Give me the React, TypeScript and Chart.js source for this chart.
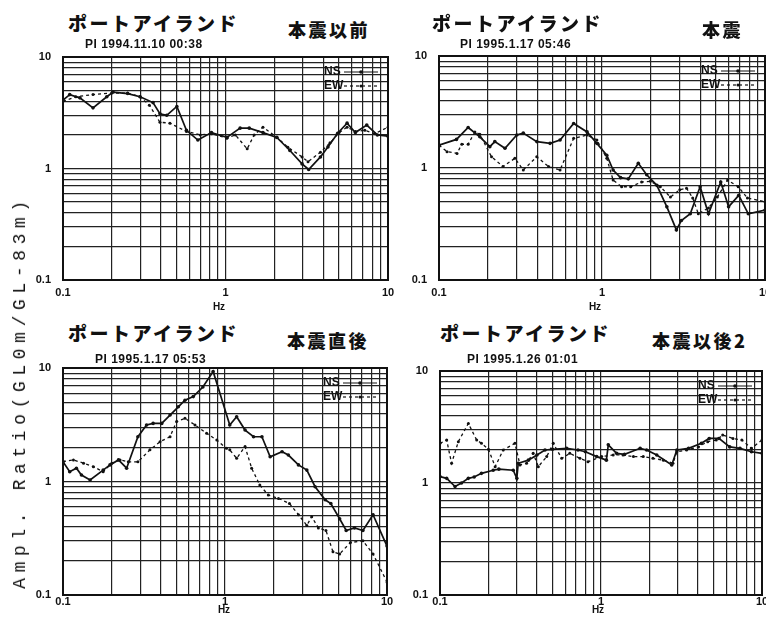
import React, { useEffect, useRef } from 'react';
import { Chart, registerables } from 'chart.js';

Chart.register(...registerables);

// ---- axis grid / tick labels ----
const GRID_VALUES = [0.1, 0.2, 0.3, 0.4, 0.5, 0.6, 0.7, 0.8, 0.9, 1, 2, 3, 4, 5, 6, 7, 8, 9, 10];
const DECADE_LABELS = ['0.1', '1', '10'];
const SERIES_NAMES = ['NS', 'EW'];

// ---- panel 1: 本震以前 ----
const TL_NS_F = [0.1, 0.11, 0.127, 0.153, 0.186, 0.203, 0.25, 0.298, 0.358, 0.395, 0.435, 0.502, 0.575, 0.676, 0.82, 1.02, 1.23, 1.4, 1.7, 2.07, 2.49, 2.96, 3.25, 3.84, 4.27, 4.9, 5.6, 6.3, 7.4, 8.6, 10];
const TL_NS_V = [4.1, 4.6, 4.3, 3.5, 4.4, 4.85, 4.7, 4.4, 3.9, 3.1, 3.0, 3.6, 2.2, 1.8, 2.1, 1.9, 2.3, 2.3, 2.1, 1.9, 1.45, 1.1, 0.98, 1.27, 1.56, 2.07, 2.55, 2.1, 2.45, 2.0, 1.95];
const TL_EW_F = [0.1, 0.12, 0.153, 0.2, 0.25, 0.298, 0.34, 0.395, 0.455, 0.575, 0.7, 0.82, 1.02, 1.15, 1.36, 1.5, 1.7, 2.07, 2.42, 2.96, 3.22, 3.84, 4.4, 5.0, 5.6, 6.3, 7.2, 8.3, 10];
const TL_EW_V = [4.0, 4.4, 4.6, 4.75, 4.75, 4.4, 3.7, 2.6, 2.55, 2.15, 2.0, 2.05, 1.87, 2.0, 1.5, 2.0, 2.35, 1.9, 1.55, 1.27, 1.15, 1.4, 1.7, 2.1, 2.35, 2.15, 2.2, 2.05, 2.35];

// ---- panel 2: 本震 ----
const TR_NS_F = [0.1, 0.128, 0.151, 0.178, 0.205, 0.22, 0.254, 0.3, 0.329, 0.398, 0.48, 0.553, 0.67, 0.81, 0.93, 1.07, 1.17, 1.3, 1.45, 1.67, 1.88, 2.17, 2.5, 2.86, 3.07, 3.48, 4.0, 4.5, 5.35, 5.98, 6.9, 7.9, 10];
const TR_NS_V = [1.6, 1.8, 2.3, 1.9, 1.55, 1.72, 1.5, 1.97, 2.05, 1.72, 1.66, 1.78, 2.5, 2.1, 1.66, 1.3, 0.96, 0.82, 0.8, 1.1, 0.87, 0.7, 0.45, 0.28, 0.34, 0.39, 0.68, 0.39, 0.75, 0.45, 0.57, 0.39, 0.42];
const TR_EW_F = [0.1, 0.112, 0.129, 0.138, 0.151, 0.166, 0.178, 0.21, 0.247, 0.292, 0.329, 0.398, 0.47, 0.553, 0.67, 0.81, 0.93, 1.07, 1.17, 1.32, 1.5, 1.75, 1.98, 2.28, 2.63, 3.0, 3.3, 3.6, 3.9, 4.5, 5.1, 5.9, 6.85, 7.8, 10];
const TR_EW_V = [1.6, 1.4, 1.35, 1.63, 1.63, 2.1, 2.0, 1.26, 1.03, 1.22, 0.96, 1.26, 1.03, 0.96, 1.84, 1.97, 1.78, 1.22, 0.78, 0.68, 0.68, 0.75, 0.76, 0.68, 0.55, 0.64, 0.66, 0.54, 0.39, 0.44, 0.55, 0.78, 0.68, 0.54, 0.5];

// ---- panel 3: 本震直後 ----
const BL_NS_F = [0.1, 0.11, 0.121, 0.13, 0.147, 0.177, 0.195, 0.22, 0.247, 0.29, 0.328, 0.36, 0.407, 0.458, 0.515, 0.566, 0.637, 0.73, 0.845, 1.07, 1.18, 1.33, 1.5, 1.69, 1.9, 2.25, 2.46, 2.84, 3.2, 3.6, 4.15, 4.5, 5.1, 5.6, 6.3, 7.1, 8.2, 10];
const BL_NS_V = [1.49, 1.22, 1.31, 1.14, 1.03, 1.26, 1.4, 1.55, 1.31, 2.48, 3.15, 3.25, 3.25, 3.85, 4.55, 5.2, 5.6, 6.8, 9.3, 3.15, 3.72, 2.84, 2.48, 2.48, 1.65, 1.83, 1.71, 1.4, 1.26, 0.9, 0.69, 0.64, 0.47, 0.37, 0.39, 0.37, 0.51, 0.27];
const BL_EW_F = [0.1, 0.116, 0.134, 0.154, 0.177, 0.2, 0.225, 0.253, 0.29, 0.344, 0.397, 0.458, 0.503, 0.566, 0.653, 0.77, 0.89, 1.02, 1.07, 1.18, 1.33, 1.46, 1.64, 1.85, 2.14, 2.5, 2.84, 3.2, 3.43, 3.77, 4.2, 4.64, 5.1, 5.95, 7.1, 8.2, 10];
const BL_EW_V = [1.5, 1.55, 1.45, 1.35, 1.22, 1.45, 1.55, 1.49, 1.49, 1.9, 2.24, 2.48, 3.37, 3.6, 3.15, 2.66, 2.32, 1.96, 1.9, 1.6, 2.03, 1.31, 0.93, 0.76, 0.71, 0.64, 0.51, 0.41, 0.49, 0.39, 0.37, 0.24, 0.23, 0.29, 0.3, 0.23, 0.13];

// ---- panel 4: 本震以後2 ----
const BR_NS_F = [0.1, 0.11, 0.124, 0.136, 0.15, 0.163, 0.181, 0.214, 0.232, 0.285, 0.3, 0.306, 0.354, 0.4, 0.449, 0.5, 0.612, 0.72, 0.8, 0.94, 1.08, 1.11, 1.25, 1.4, 1.75, 1.92, 2.22, 2.75, 2.96, 3.5, 4.2, 4.7, 5.4, 6.3, 7.3, 8.6, 10];
const BR_NS_V = [1.14, 1.1, 0.93, 1.0, 1.1, 1.13, 1.22, 1.3, 1.33, 1.3, 1.1, 1.5, 1.6, 1.78, 1.97, 2.0, 2.04, 1.97, 1.9, 1.72, 1.6, 2.19, 1.84, 1.8, 2.04, 1.97, 1.78, 1.45, 1.97, 2.04, 2.26, 2.5, 2.5, 2.1, 2.04, 1.9, 1.84];
const BR_EW_F = [0.1, 0.11, 0.118, 0.13, 0.15, 0.169, 0.181, 0.2, 0.22, 0.247, 0.292, 0.314, 0.345, 0.379, 0.408, 0.46, 0.505, 0.57, 0.64, 0.74, 0.83, 1.01, 1.19, 1.37, 1.59, 1.83, 2.1, 2.44, 2.8, 2.96, 3.4, 4.03, 4.6, 5.2, 5.7, 6.6, 7.5, 8.6, 10];
const BR_EW_V = [2.26, 2.42, 1.5, 2.34, 3.4, 2.42, 2.26, 2.0, 1.4, 1.97, 2.26, 1.45, 1.5, 1.84, 1.4, 1.72, 2.26, 1.66, 1.84, 1.66, 1.55, 1.72, 1.78, 1.78, 1.72, 1.72, 1.66, 1.6, 1.5, 1.9, 1.97, 2.1, 2.34, 2.42, 2.68, 2.5, 2.42, 2.04, 2.42];

// ---- panel texts ----
const PANEL_PLACE = ['ポートアイランド', 'ポートアイランド', 'ポートアイランド', 'ポートアイランド'];
const PANEL_PHASE = ['本震以前', '本震', '本震直後', '本震以後2'];
const PANEL_RECORD = ['PI 1994.11.10 00:38', 'PI 1995.1.17 05:46', 'PI 1995.1.17 05:53', 'PI 1995.1.26 01:01'];
const X_TITLE = 'Hz';
const Y_TITLE = 'Ampl. Ratio(GL0m/GL-83m)';

type PanelDef = {
  nsF: number[]; nsV: number[]; ewF: number[]; ewV: number[];
  plot: [number, number, number, number];
  xPad: number; xH: number;
};

const PANELS: PanelDef[] = [
  { nsF: TL_NS_F, nsV: TL_NS_V, ewF: TL_EW_F, ewV: TL_EW_V, plot: [63, 57, 388, 280], xPad: 6, xH: 24 },
  { nsF: TR_NS_F, nsV: TR_NS_V, ewF: TR_EW_F, ewV: TR_EW_V, plot: [439, 56, 765, 280], xPad: 6, xH: 24 },
  { nsF: BL_NS_F, nsV: BL_NS_V, ewF: BL_EW_F, ewV: BL_EW_V, plot: [63, 368, 387, 595], xPad: 0, xH: 16 },
  { nsF: BR_NS_F, nsV: BR_NS_V, ewF: BR_EW_F, ewV: BR_EW_V, plot: [440, 371, 762, 595], xPad: 0, xH: 16 },
];

const Y_AXIS_W = 44;
const PAD_TOP = 10;
const PAD_RIGHT = 14;
const INK = '#111';
const TICK_FONT = { family: '"Liberation Sans", Arial, sans-serif', weight: 'bold' as const, size: 11 };

const toPoints = (f: number[], v: number[]) => f.map((x, i) => ({ x, y: v[i] }));
const decadeLabel = (v: any) => {
  const s = String(Number(v));
  return DECADE_LABELS.includes(s) ? s : '';
};

const frameAndLegend = {
  id: 'frameAndLegend',
  beforeDatasetsDraw(chart: any) {
    const { ctx, chartArea: a } = chart;
    ctx.save();
    ctx.strokeStyle = INK;
    ctx.lineWidth = 2;
    ctx.strokeRect(a.left, a.top, a.right - a.left, a.bottom - a.top);
    ctx.restore();
  },
  afterDatasetsDraw(chart: any) {
    const { ctx, chartArea: a } = chart;
    chart.data.datasets.forEach((ds: any, i: number) => {
      const y = a.top + 15 + i * 14;
      ctx.save();
      ctx.font = 'bold 12px "Liberation Sans", Arial, sans-serif';
      ctx.fillStyle = INK;
      ctx.textBaseline = 'middle';
      ctx.textAlign = 'left';
      ctx.fillText(ds.label, a.right - 64, y);
      ctx.strokeStyle = INK;
      ctx.lineWidth = 1.2;
      ctx.setLineDash(ds.borderDash || []);
      ctx.beginPath();
      ctx.moveTo(a.right - 44, y);
      ctx.lineTo(a.right - 10, y);
      ctx.stroke();
      ctx.setLineDash([]);
      ctx.beginPath();
      ctx.arc(a.right - 27, y, ds.pointRadius, 0, Math.PI * 2);
      ctx.fill();
      ctx.restore();
    });
  },
};

function Panel({ def }: { def: PanelDef }) {
  const ref = useRef<HTMLCanvasElement | null>(null);
  const [l, t, r, b] = def.plot;
  const w = Y_AXIS_W + (r - l) + PAD_RIGHT;
  const h = PAD_TOP + (b - t) + def.xH;

  useEffect(() => {
    if (!ref.current) return;
    const setTicks = (s: any) => {
      s.ticks = GRID_VALUES.map((value) => ({ value }));
    };
    const gridOpts = { color: '#222', lineWidth: 1.2, drawTicks: false };
    const chart = new Chart(ref.current, {
      type: 'line',
      data: {
        datasets: [
          {
            label: SERIES_NAMES[0],
            data: toPoints(def.nsF, def.nsV),
            borderColor: INK,
            backgroundColor: INK,
            borderWidth: 1.7,
            pointRadius: 1.8,
            pointBorderWidth: 0,
            pointBackgroundColor: INK,
            tension: 0,
          },
          {
            label: SERIES_NAMES[1],
            data: toPoints(def.ewF, def.ewV),
            borderColor: INK,
            backgroundColor: INK,
            borderWidth: 1.3,
            borderDash: [3, 3],
            pointRadius: 1.5,
            pointBorderWidth: 0,
            pointBackgroundColor: INK,
            tension: 0,
          },
        ],
      },
      options: {
        animation: false,
        responsive: false,
        events: [],
        layout: { padding: { top: PAD_TOP, right: PAD_RIGHT, left: 0, bottom: 0 } },
        plugins: { legend: { display: false }, tooltip: { enabled: false }, title: { display: false } },
        scales: {
          x: {
            type: 'logarithmic',
            min: 0.1,
            max: 10,
            afterBuildTicks: setTicks,
            afterFit: (s: any) => {
              s.height = def.xH;
              s.paddingLeft = 0;
              s.paddingRight = 0;
            },
            ticks: { autoSkip: false, maxRotation: 0, callback: decadeLabel, font: TICK_FONT, color: INK, padding: def.xPad },
            grid: gridOpts,
            border: { display: true, color: INK, width: 2 },
          },
          y: {
            type: 'logarithmic',
            min: 0.1,
            max: 10,
            afterBuildTicks: setTicks,
            afterFit: (s: any) => {
              s.width = Y_AXIS_W;
              s.paddingTop = 0;
              s.paddingBottom = 0;
            },
            ticks: { autoSkip: false, callback: decadeLabel, font: TICK_FONT, color: INK, padding: 12 },
            grid: gridOpts,
            border: { display: true, color: INK, width: 2 },
          },
        },
      },
      plugins: [frameAndLegend],
    } as any);
    return () => chart.destroy();
  }, []);

  return (
    <canvas
      ref={ref}
      width={w}
      height={h}
      style={{ position: 'absolute', left: l - Y_AXIS_W, top: t - PAD_TOP, width: w, height: h, display: 'block' }}
    />
  );
}

const CJK = '"Noto Sans CJK JP", "Noto Sans CJK SC", sans-serif';
const LAT = '"Liberation Sans", Arial, sans-serif';

const PLACE_POS = [[68, 13], [432, 13], [68, 323], [440, 323]];
const PHASE_POS = [[288, 20], [702, 20], [287, 331], [652, 331]];
const RECORD_POS = [[85, 38], [460, 38], [95, 353], [467, 353]];
const HZ_POS = [[219, 302], [595, 302], [224, 605], [598, 605]];

export default function App() {
  const abs = (x: number, y: number): React.CSSProperties => ({ position: 'absolute', left: x, top: y, whiteSpace: 'nowrap', lineHeight: 1, color: INK });
  return (
    <div style={{ position: 'absolute', left: 0, top: 0, width: 766, height: 625, overflow: 'hidden', background: '#fff' }}>
      {PANELS.map((p, i) => (
        <Panel key={i} def={p} />
      ))}
      {PANEL_PLACE.map((s, i) => (
        <div key={'p' + i} style={{ ...abs(PLACE_POS[i][0], PLACE_POS[i][1]), fontFamily: CJK, fontWeight: 900, fontSize: 19, letterSpacing: 2.5 }}>{s}</div>
      ))}
      {PANEL_PHASE.map((s, i) => (
        <div key={'h' + i} style={{ ...abs(PHASE_POS[i][0], PHASE_POS[i][1]), fontFamily: CJK, fontWeight: 900, fontSize: 18, letterSpacing: 2.5 }}>{s}</div>
      ))}
      {PANEL_RECORD.map((s, i) => (
        <div key={'r' + i} style={{ ...abs(RECORD_POS[i][0], RECORD_POS[i][1]), fontFamily: LAT, fontWeight: 'bold', fontSize: 12, letterSpacing: 0.5 }}>{s}</div>
      ))}
      {HZ_POS.map((pos, i) => (
        <div key={'z' + i} style={{ ...abs(pos[0], pos[1]), transform: 'translateX(-50%)', fontFamily: LAT, fontWeight: 'bold', fontSize: 10 }}>{X_TITLE}</div>
      ))}
      <div
        style={{
          position: 'absolute', left: 20, top: 392, transform: 'translate(-50%, -50%) rotate(-90deg)',
          whiteSpace: 'nowrap', fontFamily: '"Liberation Mono", "DejaVu Sans Mono", monospace', fontSize: 18,
          letterSpacing: 5.6, color: INK, lineHeight: 1,
        }}
      >
        {Y_TITLE}
      </div>
    </div>
  );
}
